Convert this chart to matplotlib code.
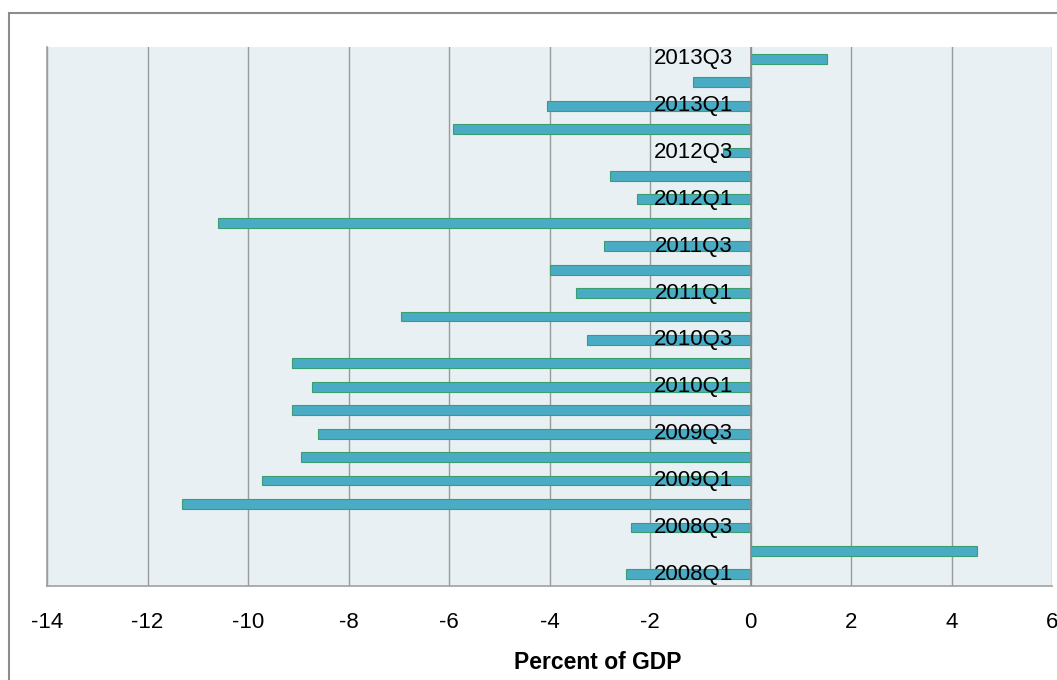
import matplotlib.pyplot as plt
import matplotlib.patches as mpatches
import numpy as np

plt.rcParams['font.family'] = ['Liberation Sans', 'DejaVu Sans']

# ---- Data (percent of GDP, by quarter) ----
quarters = ['2008Q1', '2008Q2', '2008Q3', '2008Q4',
            '2009Q1', '2009Q2', '2009Q3', '2009Q4',
            '2010Q1', '2010Q2', '2010Q3', '2010Q4',
            '2011Q1', '2011Q2', '2011Q3', '2011Q4',
            '2012Q1', '2012Q2', '2012Q3', '2012Q4',
            '2013Q1', '2013Q2', '2013Q3']
values = [-2.48, 4.51, -2.38, -11.32,
          -9.73, -8.95, -8.60, -9.12,
          -8.73, -9.12, -3.26, -6.96,
          -3.48, -4.00, -2.92, -10.60,
          -2.26, -2.80, -0.55, -5.93,
          -4.05, -1.15, 1.52]
xticks = list(range(-14, 7, 2))

fig = plt.figure(figsize=(10.57, 6.8), dpi=100)
ax = fig.add_axes([0.0445, 0.1382, 0.9508, 0.7927])
ax.set_facecolor('#e8f0f3')

y = np.arange(len(quarters))
ax.barh(y, values, height=0.42, color='#4aabc5', edgecolor='#3a9e6e',
        linewidth=0.8, zorder=3)

ax.set_xlim(-14, 6)
ax.set_ylim(-0.5, len(quarters) - 0.5)
ax.set_xticks(xticks)
ax.set_xticklabels([str(t) for t in xticks], fontsize=16)
ax.tick_params(axis='x', length=0, pad=18.5)
ax.set_yticks([])
ax.grid(axis='x', color='#9a9a9a', linewidth=1.0, zorder=1)
ax.axvline(0, color='#8c8c8c', linewidth=1.2, zorder=4)

for s in ['top', 'right']:
    ax.spines[s].set_visible(False)
ax.spines['left'].set_color('#a0a0a0')
ax.spines['bottom'].set_color('#a0a0a0')
ax.spines['left'].set_linewidth(1.2)
ax.spines['bottom'].set_linewidth(1.2)

# category labels on every other quarter, next to the zero axis
for i in range(0, len(quarters), 2):
    ax.text(-0.35, i, quarters[i], ha='right', va='center',
            fontsize=16, zorder=5)

ax.set_xlabel('Percent of GDP', fontsize=16.5, fontweight='bold')
ax.xaxis.set_label_coords(0.548, -0.121)

# outer chart border
fig.patches.append(mpatches.Rectangle((9 / 1057, -0.1), 1.2, 1.1 - 13.5 / 680,
                                      transform=fig.transFigure, fill=False,
                                      edgecolor='#8c8c8c', linewidth=1.5))

plt.savefig('out.png', dpi=100)
